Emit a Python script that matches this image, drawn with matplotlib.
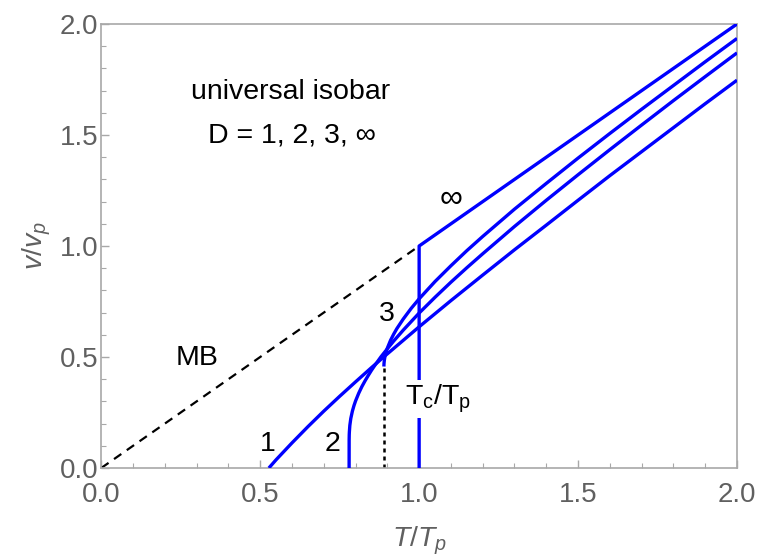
import matplotlib
matplotlib.use("Agg")
import matplotlib.pyplot as plt
from matplotlib.ticker import MultipleLocator, FormatStrFormatter

plt.rcParams['font.family'] = ['Liberation Sans', 'DejaVu Sans']
plt.rcParams['mathtext.fontset'] = 'custom'
plt.rcParams['mathtext.rm'] = 'Liberation Sans'
plt.rcParams['mathtext.it'] = 'Liberation Sans:italic'

# ---- data ----
t_d1 = [0.5273, 0.55, 0.60, 0.65, 0.70, 0.75, 0.80, 0.85, 0.89, 0.95, 1.0, 1.05,
        1.1, 1.2, 1.3, 1.4, 1.5, 1.6, 1.7, 1.8, 1.9, 2.0]
v_d1 = [0.0, 0.037, 0.113, 0.186, 0.256, 0.323, 0.388, 0.452, 0.502, 0.575, 0.636, 0.695,
        0.754, 0.869, 0.983, 1.094, 1.206, 1.317, 1.425, 1.533, 1.641, 1.747]

t_d2 = [0.7797, 0.7798, 0.7801, 0.7805, 0.782, 0.785, 0.79, 0.795, 0.80, 0.81, 0.82,
        0.83, 0.84, 0.85, 0.86, 0.87, 0.88, 0.89, 0.90, 0.92, 0.95, 1.0, 1.05, 1.1,
        1.15, 1.2, 1.3, 1.4, 1.5, 1.6, 1.7, 1.8, 1.9, 2.0]
v_d2 = [0.0, 0.126, 0.149, 0.162, 0.192, 0.223, 0.256, 0.281, 0.302, 0.337, 0.367,
        0.393, 0.417, 0.440, 0.461, 0.481, 0.501, 0.519, 0.537, 0.572, 0.621, 0.698, 0.769, 0.837,
        0.902, 0.965, 1.088, 1.206, 1.321, 1.434, 1.545, 1.655, 1.763, 1.870]

t_d3 = [0.8891, 0.8895, 0.8905, 0.892, 0.895, 0.90, 0.91, 0.92, 0.93, 0.95, 0.975, 1.0,
        1.05, 1.1, 1.15, 1.2, 1.3, 1.4, 1.5, 1.6, 1.7, 1.8, 1.9, 2.0]
v_d3 = [0.457, 0.471, 0.485, 0.498, 0.517, 0.540, 0.575, 0.603, 0.628, 0.671, 0.719, 0.762,
        0.840, 0.911, 0.979, 1.043, 1.166, 1.282, 1.396, 1.507, 1.616, 1.723, 1.830, 1.935]

t_inf = [1.0, 1.0, 2.0]
v_inf = [0.0, 1.0, 2.0]

t_mb = [0.0, 1.0]
v_mb = [0.0, 1.0]

t_c3 = [0.8891, 0.8891]
v_c3 = [0.0, 0.457]

ticks = [0.0, 0.5, 1.0, 1.5, 2.0]

blue = '#0000ff'
gray_frame = '#a8a8a8'
gray_text = '#606060'

fig = plt.figure(figsize=(7.58, 5.56), dpi=100)
ax = fig.add_axes([0.1336, 0.1583, 0.8387, 0.7985])

ax.plot(t_mb, v_mb, color='black', lw=1.6, ls=(0, (4, 3)), zorder=2)
ax.plot(t_c3, v_c3, color='black', lw=1.8, ls=(0, (1.6, 1.6)), zorder=2)
for tt, vv in ((t_d1, v_d1), (t_d2, v_d2), (t_d3, v_d3), (t_inf, v_inf)):
    ax.plot(tt, vv, color=blue, lw=2.4, zorder=3, solid_capstyle='butt',
            solid_joinstyle='round')

ax.set_xlim(0, 2)
ax.set_ylim(0, 2)
ax.set_xticks(ticks)
ax.set_yticks(ticks)
ax.xaxis.set_minor_locator(MultipleLocator(0.1))
ax.yaxis.set_minor_locator(MultipleLocator(0.1))
ax.xaxis.set_major_formatter(FormatStrFormatter('%.1f'))
ax.yaxis.set_major_formatter(FormatStrFormatter('%.1f'))
ax.tick_params(which='both', direction='in', color=gray_frame, labelcolor=gray_text,
               labelsize=20, top=False, right=False)
ax.tick_params(which='major', length=6, width=1)
ax.tick_params(which='minor', length=3.5, width=0.8)
ax.tick_params(axis='x', pad=10)
ax.tick_params(axis='y', pad=2)
for s in ax.spines.values():
    s.set_color(gray_frame)
    s.set_linewidth(1.2)

ax.set_xlabel(r'$T/T_p$', fontsize=20.5, color=gray_text, labelpad=12)
ax.set_ylabel(r'$v/v_p$', fontsize=20.5, color=gray_text, labelpad=5)

tk = dict(fontsize=20.5, color='black', ha='center', va='center', zorder=5)
ax.text(0.594, 1.695, 'universal isobar', **tk)
ax.text(0.60, 1.496, 'D = 1, 2, 3, \u221e', **tk)
ax.text(0.30, 0.495, 'MB', **tk)
ax.text(0.525, 0.11, '1', **tk)
ax.text(0.727, 0.11, '2', **tk)
ax.text(0.898, 0.695, '3', **tk)
ax.text(1.10, 1.21, '\u221e', fontsize=23, color='black', ha='center', va='center')
ax.text(1.06, 0.31, r'T$_\mathrm{c}$/T$_\mathrm{p}$', fontsize=20.5, color='black',
        ha='center', va='center', zorder=5,
        bbox=dict(facecolor='white', edgecolor='none', pad=2))

fig.savefig('out.png', dpi=100)
